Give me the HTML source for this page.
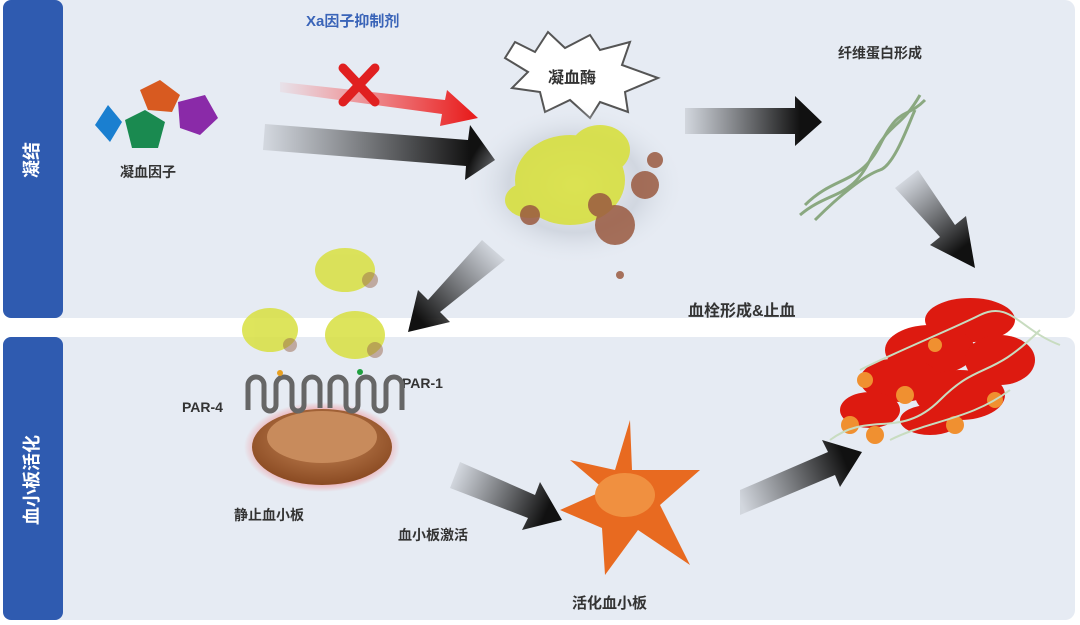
<!DOCTYPE html>
<html><head><meta charset="utf-8"><style>
body{margin:0;width:1080px;height:620px;overflow:hidden;background:#fff;font-family:"Liberation Sans","Noto Sans CJK SC",sans-serif}
</style></head><body>
<svg width="1080" height="620" viewBox="0 0 1080 620" xmlns="http://www.w3.org/2000/svg" font-family="Liberation Sans, Noto Sans CJK SC, sans-serif">
<defs>
<radialGradient id="glow" cx="0.5" cy="0.5" r="0.5"><stop offset="0" stop-color="#fff" stop-opacity="1"/><stop offset="0.6" stop-color="#c8ced8" stop-opacity="0.7"/><stop offset="1" stop-color="#e6ebf3" stop-opacity="0"/></radialGradient>
<radialGradient id="plt" cx="0.5" cy="0.4" r="0.6"><stop offset="0" stop-color="#c98a5a"/><stop offset="1" stop-color="#8a4a22"/></radialGradient>
<radialGradient id="red" cx="0.5" cy="0.5" r="0.5"><stop offset="0.6" stop-color="#ff3030" stop-opacity="0.7"/><stop offset="1" stop-color="#ff3030" stop-opacity="0"/></radialGradient>
<linearGradient id="a1" gradientUnits="userSpaceOnUse" x1="265" y1="0" x2="470" y2="0"><stop offset="0" stop-color="#222" stop-opacity="0.1"/><stop offset="1" stop-color="#111"/></linearGradient>
<linearGradient id="a2" gradientUnits="userSpaceOnUse" x1="685" y1="0" x2="800" y2="0"><stop offset="0" stop-color="#222" stop-opacity="0.1"/><stop offset="1" stop-color="#111"/></linearGradient>
<linearGradient id="a3" gradientUnits="userSpaceOnUse" x1="905" y1="180" x2="960" y2="250"><stop offset="0" stop-color="#222" stop-opacity="0.1"/><stop offset="1" stop-color="#111"/></linearGradient>
<linearGradient id="a4" gradientUnits="userSpaceOnUse" x1="495" y1="250" x2="420" y2="320"><stop offset="0" stop-color="#222" stop-opacity="0.1"/><stop offset="1" stop-color="#111"/></linearGradient>
<linearGradient id="a5" gradientUnits="userSpaceOnUse" x1="455" y1="475" x2="545" y2="515"><stop offset="0" stop-color="#222" stop-opacity="0.1"/><stop offset="1" stop-color="#111"/></linearGradient>
<linearGradient id="a6" gradientUnits="userSpaceOnUse" x1="740" y1="500" x2="845" y2="460"><stop offset="0" stop-color="#222" stop-opacity="0.1"/><stop offset="1" stop-color="#111"/></linearGradient>
<linearGradient id="ar" gradientUnits="userSpaceOnUse" x1="280" y1="0" x2="470" y2="0"><stop offset="0" stop-color="#f33" stop-opacity="0.05"/><stop offset="1" stop-color="#e82020"/></linearGradient>
</defs>
<!-- panels -->
<rect x="3" y="0" width="1072" height="318" rx="10" fill="#e6ebf3"/>
<rect x="3" y="337" width="1072" height="283" rx="10" fill="#e6ebf3"/>
<rect x="3" y="0" width="60" height="318" rx="8" fill="#2f5bb0"/>
<rect x="3" y="337" width="60" height="283" rx="8" fill="#2f5bb0"/>
<text x="33" y="160" fill="#fff" font-size="18" font-weight="bold" text-anchor="middle" transform="rotate(-90 33 160)" dominant-baseline="middle">凝结</text>
<text x="33" y="480" fill="#fff" font-size="18" font-weight="bold" text-anchor="middle" transform="rotate(-90 33 480)" dominant-baseline="middle">血小板活化</text>
<!-- labels -->
<text x="306" y="26" fill="#3a64b8" font-size="15" font-weight="bold">Xa因子抑制剂</text>
<text x="120" y="177" fill="#333" font-size="14" font-weight="bold">凝血因子</text>
<text x="838" y="58" fill="#333" font-size="14" font-weight="bold">纤维蛋白形成</text>
<text x="688" y="316" fill="#333" font-size="16" font-weight="bold">血栓形成&amp;止血</text>
<text x="182" y="412" fill="#333" font-size="14" font-weight="bold">PAR-4</text>
<text x="402" y="388" fill="#333" font-size="14" font-weight="bold">PAR-1</text>
<text x="234" y="520" fill="#333" font-size="14" font-weight="bold">静止血小板</text>
<text x="398" y="540" fill="#333" font-size="14" font-weight="bold">血小板激活</text>
<text x="572" y="608" fill="#333" font-size="15" font-weight="bold">活化血小板</text>
<!-- factors -->
<polygon points="95,125 108,105 122,122 110,142" fill="#1a7fd0"/>
<polygon points="140,90 160,80 180,95 172,112 148,110" fill="#d85a20"/>
<polygon points="125,120 145,110 165,122 158,148 132,148" fill="#1a8a50"/>
<polygon points="178,102 205,95 218,118 200,135 180,128" fill="#8a2aa8"/>
<!-- arrows -->
<polygon points="265,124 468,140 470,125 495,160 465,180 466,166 263,150" fill="url(#a1)"/>
<polygon points="685,108 795,108 795,96 822,122 795,146 795,134 685,134" fill="url(#a2)"/>
<polygon points="895,188 918,170 955,225 966,216 975,268 930,245 940,237" fill="url(#a3)"/>
<polygon points="482,240 505,260 440,312 450,322 408,332 418,290 428,300" fill="url(#a4)"/>
<polygon points="450,488 460,462 535,495 540,482 562,520 522,530 528,518" fill="url(#a5)"/>
<polygon points="740,490 740,515 835,475 840,487 862,452 822,440 828,452" fill="url(#a6)"/>
<polygon points="280,82 445,100 447,90 478,118 440,126 442,114 280,92" fill="url(#ar)"/>
<g stroke="#e02020" stroke-width="9" stroke-linecap="round"><line x1="343" y1="68" x2="375" y2="102"/><line x1="375" y1="68" x2="343" y2="102"/></g>
<!-- thrombin star -->
<polygon points="515,42 535,52 548,32 565,48 590,35 600,50 630,42 622,65 658,78 625,92 628,112 600,102 590,118 570,100 545,112 540,92 512,88 528,72 505,58" fill="#fff" stroke="#555" stroke-width="2"/>
<text x="548" y="83" fill="#333" font-size="16" font-weight="bold">凝血酶</text>
<ellipse cx="575" cy="185" rx="110" ry="80" fill="url(#glow)"/>
<g fill="#d8e040" opacity="0.9"><ellipse cx="570" cy="180" rx="55" ry="45"/><ellipse cx="530" cy="200" rx="25" ry="18"/><ellipse cx="600" cy="150" rx="30" ry="25"/></g>
<g fill="#9a5a40" opacity="0.85"><circle cx="615" cy="225" r="20"/><circle cx="645" cy="185" r="14"/><circle cx="530" cy="215" r="10"/><circle cx="600" cy="205" r="12"/><circle cx="655" cy="160" r="8"/><circle cx="620" cy="275" r="4"/></g>
<!-- fibrin -->
<g fill="none" stroke="#8aa880" stroke-width="3"><path d="M800,215 C830,190 850,200 870,160 S900,130 920,95"/><path d="M805,205 C835,175 860,185 880,145 S905,120 925,100"/><path d="M815,220 C840,195 865,175 880,170 S910,120 915,110"/></g>
<!-- activated clot-forming fragments -->
<g fill="#d8e040" opacity="0.85"><ellipse cx="345" cy="270" rx="30" ry="22"/><ellipse cx="270" cy="330" rx="28" ry="22"/><ellipse cx="355" cy="335" rx="30" ry="24"/></g>
<g fill="#9a6a50" opacity="0.5"><circle cx="370" cy="280" r="8"/><circle cx="290" cy="345" r="7"/><circle cx="375" cy="350" r="8"/></g>
<!-- resting platelet -->
<ellipse cx="322" cy="447" rx="78" ry="45" fill="url(#red)"/>
<ellipse cx="322" cy="447" rx="70" ry="38" fill="url(#plt)"/>
<ellipse cx="322" cy="437" rx="55" ry="26" fill="#c88b5c"/>
<g fill="none" stroke="#666" stroke-width="5"><path d="M248,410 V385 a8,8 0 0 1 16,0 V405 a6,6 0 0 0 12,0 V385 a8,8 0 0 1 16,0 V405 a6,6 0 0 0 12,0 V385 a8,8 0 0 1 16,0 V408"/><path d="M330,408 V385 a8,8 0 0 1 16,0 V405 a6,6 0 0 0 12,0 V385 a8,8 0 0 1 16,0 V405 a6,6 0 0 0 12,0 V385 a8,8 0 0 1 16,0 V410"/></g>
<circle cx="280" cy="373" r="3" fill="#e8a020"/><circle cx="360" cy="372" r="3" fill="#20a040"/>
<!-- activated platelet -->
<polygon points="630,420 632,470 700,470 660,505 690,565 638,530 605,575 602,528 560,510 605,490 570,460 615,470" fill="#e86a20"/>
<ellipse cx="625" cy="495" rx="30" ry="22" fill="#f09040"/>
<!-- clot -->
<g fill="#dd1a10"><ellipse cx="970" cy="320" rx="45" ry="22"/><ellipse cx="930" cy="350" rx="45" ry="25"/><ellipse cx="1000" cy="360" rx="35" ry="25"/><ellipse cx="900" cy="380" rx="40" ry="22"/><ellipse cx="960" cy="395" rx="45" ry="25"/><ellipse cx="870" cy="410" rx="30" ry="18"/><ellipse cx="930" cy="420" rx="30" ry="15"/></g>
<g fill="#f09030"><circle cx="850" cy="425" r="9"/><circle cx="875" cy="435" r="9"/><circle cx="905" cy="395" r="9"/><circle cx="955" cy="425" r="9"/><circle cx="995" cy="400" r="8"/><circle cx="935" cy="345" r="7"/><circle cx="865" cy="380" r="8"/></g>
<g fill="none" stroke="#c8dcc0" stroke-width="2"><path d="M830,440 C870,410 900,440 940,400 S990,380 1040,330"/><path d="M860,370 C900,350 950,330 980,315 S1020,330 1060,345"/><path d="M890,440 C930,420 970,420 1010,390"/></g>
</svg>
</body></html>
